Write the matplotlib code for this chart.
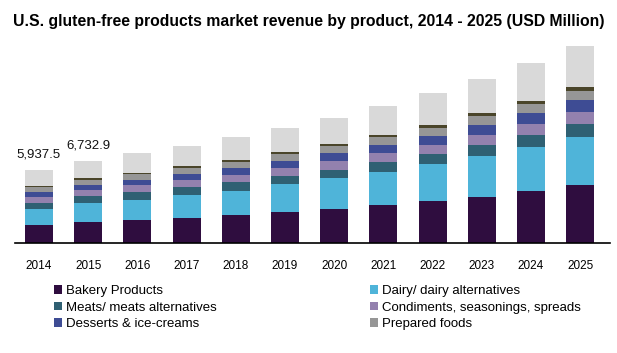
import numpy as np
import matplotlib
matplotlib.use("Agg")
import matplotlib.pyplot as plt

plt.rcParams['font.family'] = ['Liberation Sans', 'DejaVu Sans']

years = ['2014', '2015', '2016', '2017', '2018', '2019', '2020', '2021',
         '2022', '2023', '2024', '2025']

# revenue by product, USD million
bakery = [1502, 1749, 1913, 2077, 2323, 2570, 2816, 3144, 3473, 3801, 4212, 4704]
dairy = [1314, 1560, 1642, 1888, 1970, 2217, 2463, 2627, 2956, 3284, 3612, 3941]
meats = [493, 493, 575, 575, 657, 657, 657, 821, 821, 903, 985, 1067]
condiments = [411, 493, 575, 575, 575, 657, 739, 739, 739, 821, 903, 985]
desserts = [411, 411, 411, 493, 575, 575, 657, 657, 739, 821, 903, 985]
prepared = [411, 411, 493, 493, 493, 575, 575, 657, 657, 739, 739, 739]
snacks = [82, 164, 82, 164, 164, 164, 164, 164, 246, 246, 246, 328]
others = [1314, 1452, 1642, 1642, 1888, 1970, 2135, 2381, 2627, 2791, 3120, 3366]

series = [
    ("Bakery Products", bakery, "#2f0d3f"),
    ("Dairy/ dairy alternatives", dairy, "#4fb4d9"),
    ("Meats/ meats alternatives", meats, "#2f6073"),
    ("Condiments, seasonings, spreads", condiments, "#9381ae"),
    ("Desserts & ice-creams", desserts, "#3e4c94"),
    ("Prepared foods", prepared, "#969696"),
    ("Snacks", snacks, "#4a452a"),
    ("Others", others, "#d9d9d9"),
]

labelled = {0: "5,937.5", 1: "6,732.9"}

fig = plt.figure(figsize=(6.17, 3.53), dpi=100)
ax = fig.add_axes([0.024, 0.312, 0.965, 0.59])

x = np.arange(len(years))
bottom = np.zeros(len(years))
handles = []
for name, vals, col in series:
    b = ax.bar(x, vals, 0.57, bottom=bottom, color=col, label=name, linewidth=0)
    handles.append(b)
    bottom += np.array(vals)

for i, txt in labelled.items():
    ax.annotate(txt, (x[i], bottom[i]), xytext=(0, 7), textcoords="offset points",
                ha="center", va="bottom", fontsize=9.5, color="#111111")

ax.set_xlim(-0.49, 11.61)
ax.set_ylim(0, 208 * 82.1)
ax.set_xticks(x)
ax.set_xticklabels(years, fontsize=8.5)
ax.tick_params(axis='x', length=0, pad=12)
ax.set_yticks([])
for s in ['top', 'right', 'left']:
    ax.spines[s].set_visible(False)
ax.spines['bottom'].set_linewidth(1.2)

fig.text(0.5, 0.94, "U.S. gluten-free products market revenue by product, 2014 - 2025 (USD Million)",
         ha="center", va="center", fontsize=11.3, fontweight="bold")

# legend: only the first six entries fit in the picture; fill row by row
order = [0, 2, 4, 1, 3, 5]
fig.legend([handles[i] for i in order], [series[i][0] for i in order],
           loc="upper left", bbox_to_anchor=(54 / 617, 1 - 285 / 353), ncol=2,
           frameon=False, fontsize=9.5, handlelength=0.6, handleheight=0.6,
           handletextpad=0.3, labelspacing=0.35, columnspacing=11.6,
           borderpad=0, borderaxespad=0)

fig.savefig("out.png", dpi=100)
